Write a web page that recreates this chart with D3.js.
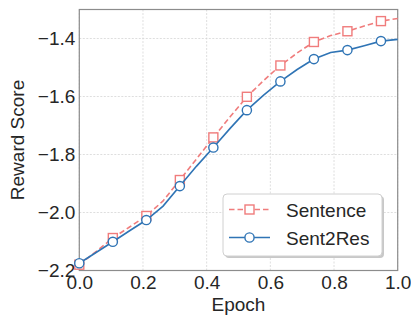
<!DOCTYPE html>
<html>
<head>
<meta charset="utf-8">
<script src="https://cdn.jsdelivr.net/npm/d3@7"></script>
<style>
  body { margin: 0; background: #fff; }
  text { font-family: "Liberation Sans", Arial, sans-serif; fill: #262626; }
</style>
</head>
<body>
<svg id="chart" width="411" height="317"></svg>
<script>
// epochs sampled at i/19, markers on every other point
var epochs = d3.range(20).map(function (i) { return i / 19; });
var sentence = [-2.18, -2.135, -2.088, -2.05, -2.012, -1.96, -1.888, -1.815, -1.741, -1.67,
                -1.601, -1.545, -1.493, -1.45, -1.412, -1.39, -1.375, -1.357, -1.340, -1.331];
var sent2res = [-2.175, -2.138, -2.101, -2.063, -2.026, -1.978, -1.909, -1.84, -1.776, -1.71,
                -1.647, -1.595, -1.548, -1.507, -1.471, -1.448, -1.440, -1.425, -1.409, -1.403];
var xTicks = [0, 0.2, 0.4, 0.6, 0.8, 1.0];
var yTicks = [-2.2, -2.0, -1.8, -1.6, -1.4];
var seriesNames = ["Sentence", "Sent2Res"];

var svg = d3.select('#chart');
var margin = { top: 9.5, left: 79.3, bottom: 46.5, right: 13.3 };
var width = 411, height = 317;
var w = width - margin.left - margin.right;
var h = height - margin.top - margin.bottom;

var x = d3.scaleLinear().domain([0, 1]).range([0, w]);
var y = d3.scaleLinear().domain([-2.2, -1.3]).range([h, 0]);
var fmt = function (d) { return d3.format(".1f")(d).replace("-", "\u2212"); };

var g = svg.append("g").attr("transform", "translate(" + [margin.left, margin.top] + ")");

// grid
g.append("g").selectAll("line").data(xTicks).enter().append("line")
    .attr("x1", function (d) { return x(d); }).attr("x2", function (d) { return x(d); })
    .attr("y1", 0).attr("y2", h)
    .attr("stroke", "#d5d5d5").attr("stroke-width", 0.8).attr("stroke-dasharray", "2,1.5");
g.append("g").selectAll("line").data(yTicks).enter().append("line")
    .attr("y1", function (d) { return y(d); }).attr("y2", function (d) { return y(d); })
    .attr("x1", 0).attr("x2", w)
    .attr("stroke", "#d5d5d5").attr("stroke-width", 0.8).attr("stroke-dasharray", "2,1.5");

// axes (labels only, no tick marks)
var xAxis = d3.axisBottom(x).tickValues(xTicks).tickFormat(fmt).tickSize(0).tickPadding(5);
var yAxis = d3.axisLeft(y).tickValues(yTicks).tickFormat(fmt).tickSize(0).tickPadding(4);
var gx = g.append("g").attr("transform", "translate(0," + h + ")").call(xAxis);
var gy = g.append("g").call(yAxis);
[gx, gy].forEach(function (a) {
    a.select(".domain").remove();
    a.selectAll("text").style("font-size", "19px").style("font-family", "Liberation Sans, Arial, sans-serif").attr("fill", "#262626");
});

// frame
g.append("rect").attr("width", w).attr("height", h)
    .attr("fill", "none").attr("stroke", "#8c8c8c").attr("stroke-width", 1.2);

var colors = ["#f07c7c", "#2f74b5"];
var allSeries = [sentence, sent2res];

allSeries.forEach(function (vals, k) {
    var line = d3.line().x(function (d, i) { return x(epochs[i]); }).y(function (d) { return y(d); });
    g.append("path").datum(vals)
        .attr("d", line)
        .attr("fill", "none")
        .attr("stroke", colors[k])
        .attr("stroke-width", 1.6)
        .attr("stroke-dasharray", k === 0 ? "5.5,3" : null);
    var marks = vals.map(function (v, i) { return { x: epochs[i], y: v, i: i }; })
        .filter(function (d) { return d.i % 2 === 0; });
    if (k === 0) {
        g.selectAll(".sq").data(marks).enter().append("rect")
            .attr("x", function (d) { return x(d.x) - 4.5; })
            .attr("y", function (d) { return y(d.y) - 4.5; })
            .attr("width", 9).attr("height", 9)
            .attr("fill", "#fff").attr("stroke", colors[k]).attr("stroke-width", 1.4);
    } else {
        g.selectAll(".ci").data(marks).enter().append("circle")
            .attr("cx", function (d) { return x(d.x); })
            .attr("cy", function (d) { return y(d.y); })
            .attr("r", 4.6)
            .attr("fill", "#fff").attr("stroke", colors[k]).attr("stroke-width", 1.4);
    }
});

// legend
var lg = svg.append("g").attr("transform", "translate(223,194)");
lg.append("rect").attr("x", 2).attr("y", 2).attr("width", 159).attr("height", 62).attr("rx", 4)
    .attr("fill", "#c8c8c8");
lg.append("rect").attr("width", 159).attr("height", 62).attr("rx", 4)
    .attr("fill", "#fff").attr("stroke", "#d0d0d0").attr("stroke-width", 1);
seriesNames.forEach(function (name, k) {
    var yy = 15.5 + k * 28;
    lg.append("line").attr("x1", 6).attr("x2", 47).attr("y1", yy).attr("y2", yy)
        .attr("stroke", colors[k]).attr("stroke-width", 1.6)
        .attr("stroke-dasharray", k === 0 ? "5.5,3" : null);
    if (k === 0) {
        lg.append("rect").attr("x", 26.5 - 4.5).attr("y", yy - 4.5).attr("width", 9).attr("height", 9)
            .attr("fill", "#fff").attr("stroke", colors[k]).attr("stroke-width", 1.4);
    } else {
        lg.append("circle").attr("cx", 26.5).attr("cy", yy).attr("r", 4.6)
            .attr("fill", "#fff").attr("stroke", colors[k]).attr("stroke-width", 1.4);
    }
    lg.append("text").attr("x", 63).attr("y", yy + 7).style("font-size", "19px").text(name);
});

// axis labels
svg.append("text")
    .attr("transform", "translate(" + (margin.left + w / 2) + "," + 311 + ")")
    .style("text-anchor", "middle").style("font-size", "19px")
    .text("Epoch");
svg.append("text")
    .attr("transform", "translate(" + 24 + "," + 140 + "), rotate(-90)")
    .style("text-anchor", "middle").style("font-size", "19px")
    .text("Reward Score");
</script>
</body>
</html>
